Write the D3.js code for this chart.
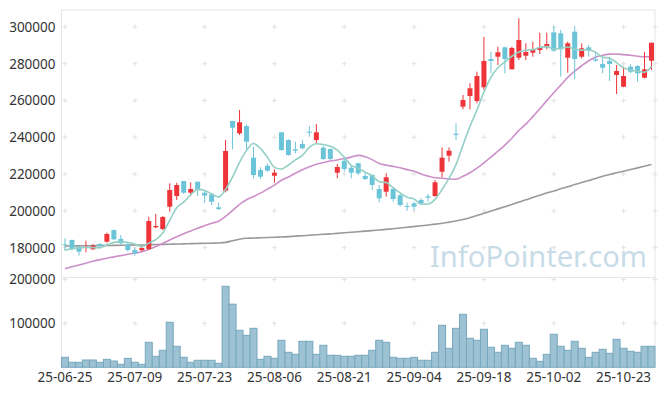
<!DOCTYPE html>
<html><head><meta charset="utf-8">
<script src="https://cdn.jsdelivr.net/npm/d3@7"></script>
<style>body{margin:0;background:#fff}svg{display:block}</style>
</head><body>
<svg id="c" width="665" height="396"></svg>
<script>
const dates = ["25-06-25","25-06-26","25-06-27","25-06-30",
"25-07-01","25-07-02","25-07-03","25-07-04","25-07-07","25-07-08","25-07-09","25-07-10","25-07-11","25-07-14","25-07-15","25-07-16","25-07-17","25-07-18","25-07-21","25-07-22","25-07-23","25-07-24","25-07-25","25-07-28","25-07-29","25-07-30","25-07-31",
"25-08-01","25-08-04","25-08-05","25-08-06","25-08-07","25-08-08","25-08-11","25-08-12","25-08-13","25-08-14","25-08-18","25-08-19","25-08-20","25-08-21","25-08-22","25-08-25","25-08-26","25-08-27","25-08-28","25-08-29",
"25-09-01","25-09-02","25-09-03","25-09-04","25-09-05","25-09-08","25-09-09","25-09-10","25-09-11","25-09-12","25-09-15","25-09-16","25-09-17","25-09-18","25-09-19","25-09-22","25-09-23","25-09-24","25-09-25","25-09-26","25-09-29","25-09-30",
"25-10-01","25-10-02","25-10-10","25-10-13","25-10-14","25-10-15","25-10-16","25-10-17","25-10-20","25-10-21","25-10-22","25-10-23","25-10-24","25-10-27","25-10-28","25-10-29"];
const open = [181850,184190,180540,180000,179130,182010,183260,189600,184730,181850,178750,178590,179300,191090,190160,202280,208100,216250,209900,215870,209900,209020,201960,210980,248860,242180,246140,228920,222230,224570,219130,242720,238530,233480,236360,243040,238530,234350,233640,220760,227280,223480,225870,218970,219510,211900,210440,211900,208480,202660,204130,205920,207940,208100,221310,230000,242000,256630,262450,259730,267180,282560,283810,288920,277010,283270,284350,285980,287450,288920,297070,296530,283270,297400,283810,288920,282380,279840,281470,273880,267500,278370,278750,272400,281630];
const high = [185100,184500,181090,183800,181850,182550,188150,190000,186900,182400,180000,180540,196850,198300,197230,215000,215330,216300,215540,215900,211360,209570,204460,238530,249000,254840,247070,234890,223700,225870,222610,242800,238910,237610,238530,246140,247230,235270,234020,225490,229460,224950,226200,220440,219890,214080,220440,213150,209190,204460,205000,206850,209190,216790,234570,234570,247610,262990,269350,275660,294680,286520,289240,289240,289240,304680,291090,291960,296850,296850,300500,298400,291960,300500,291090,290170,285650,283810,283810,279300,278370,279670,279300,286520,291410];
const low = [178370,178370,175650,177500,178750,180540,182700,184200,181470,177800,175650,178040,178800,190540,189600,199570,205920,209190,208100,208100,204460,203210,200490,210100,233480,241250,233100,217720,217340,221310,215330,232720,230000,231310,233480,240330,236360,227670,227670,217720,221310,217720,219510,216790,211360,204670,207720,205000,202280,200110,200490,203210,205000,207720,218260,226740,238530,255220,255220,258480,265710,274790,279300,274790,276830,282020,282020,283810,285270,287830,286520,272940,275110,271530,282940,283810,281090,274790,270600,263540,267180,274790,270220,272070,276580];
const close = [181470,179290,177830,180400,181090,180920,187450,184570,182390,178750,176950,179840,194500,191800,196690,211360,214080,209900,211900,211360,208260,205000,201030,232560,245220,248150,237610,219510,218590,221850,220760,233100,230380,232720,234020,242500,242720,228210,228210,223860,222770,220760,220440,217340,214080,206850,218260,206470,203210,202120,202280,204130,207170,215540,228920,232720,241300,260260,266630,273310,281470,281470,286200,282560,288570,292890,286360,287990,288540,290710,287070,287830,291090,282560,288370,287450,281630,277830,279840,276050,273310,275660,274790,276960,291410];
const volume = [22700,11400,11400,16600,16600,11400,18100,14300,6800,20400,11400,6800,56800,25000,38600,102300,47700,22700,11400,15900,15900,15900,9100,184000,143500,84100,72700,88600,18100,25000,20400,61400,34100,29500,59100,59100,29500,50000,27300,27300,25000,25000,27300,27300,38600,61400,56800,22700,20400,20400,22700,15900,15900,34100,95500,43200,88600,120400,65900,61400,86400,45500,34100,50000,43200,56800,50000,20400,13600,29500,75000,47700,38600,59100,43200,22700,34100,40900,31800,63600,43200,36400,34100,47700,47700];
const ma5 = [178600,179400,179900,180100,180020,179910,181540,182890,183280,182820,182020,180500,182490,184370,187960,194840,201690,204770,208790,211720,211100,209280,207510,211640,218410,226390,232910,236610,233820,229140,223660,222760,224940,227760,230200,234540,236470,236030,235130,233100,229150,224760,223210,221030,219080,215890,215390,212600,209770,207380,206470,203640,203780,206250,211610,217700,225130,235750,245970,254840,264590,272630,277820,281000,284050,286340,287320,287670,288870,289300,288130,288430,289050,287850,287380,287460,286220,283570,283020,280560,277730,276540,275930,275350,278430];
const ma20 = [168600,169600,170600,171600,172600,173500,174300,175000,175700,176400,177100,177800,179000,180600,182300,184200,186000,187600,189100,190630,191970,193250,194410,197020,200230,203590,206100,207840,209650,211810,214000,216660,218460,220500,222370,223930,225360,226270,227090,227710,228440,229230,230200,229440,227880,225810,224850,224190,223430,222440,221520,220070,218910,218050,217790,217300,217230,218830,220760,223230,226160,229200,232490,235750,239470,243770,247180,251260,255520,259950,264190,268380,272570,275920,278900,281630,283650,284530,285190,285320,284920,284630,284060,283780,283920];
const ma120 = [180900,180950,181000,181050,181100,181150,181200,181250,181300,181350,181450,181500,181600,181700,181800,181900,182000,182100,182200,182300,182400,182450,182550,182900,183800,184600,185100,185250,185400,185550,185700,185800,186000,186300,186500,186800,187000,187300,187500,187800,188100,188400,188700,189000,189300,189600,189950,190300,190700,191100,191500,191900,192350,192800,193300,193900,194500,195300,196300,197500,198700,199900,201100,202300,203500,204800,206000,207300,208500,209700,210800,212000,213100,214300,215400,216500,217600,218800,219800,220700,221600,222500,223400,224300,225200];
const priceTicks = [180000,200000,220000,240000,260000,280000,300000];
const volumeTicks = [100000,200000];
const dateTicks = ["25-06-25","25-07-09","25-07-23","25-08-06","25-08-21","25-09-04","25-09-18","25-10-02","25-10-23"];

const svg = d3.select("#c");
const L = 61.5, R = 655, T = 10, PB = 277.5, VB = 367.3;
const FONT = "'Noto Sans', 'Liberation Sans', sans-serif";

const x = d3.scaleBand().domain(dates).range([L, R]).padding(0);
const cx = d => x(d) + x.bandwidth() / 2;
const y = d3.scaleLinear().domain([163800, 309200]).range([PB, T]);
const yv = d3.scaleLinear().domain([0, 204100]).range([VB, PB]);

// watermark
svg.append("text").attr("x", 647).attr("y", 267).attr("text-anchor", "end")
  .attr("font-family", FONT).attr("font-size", 29).attr("fill", "#c8dce7")
  .attr("textLength", 217).attr("lengthAdjust", "spacingAndGlyphs")
  .text("InfoPointer.com");

// grid crosses
const gx = dateTicks.map(cx).concat([R]);
const gy = priceTicks.map(y).concat(volumeTicks.map(yv));
const cross = svg.append("g").attr("stroke", "#e2e2e2").attr("stroke-width", 1);
gx.forEach(px => gy.forEach(py => {
  cross.append("line").attr("x1", px - 2.5).attr("x2", px + 2.5).attr("y1", py).attr("y2", py);
  cross.append("line").attr("x1", px).attr("x2", px).attr("y1", py - 2.5).attr("y2", py + 2.5);
}));

// frame
const frame = svg.append("g").attr("stroke", "#e6e6e6").attr("fill", "none");
frame.append("line").attr("x1", L).attr("x2", R).attr("y1", T).attr("y2", T);
frame.append("line").attr("x1", L).attr("x2", L).attr("y1", T).attr("y2", VB);
frame.append("line").attr("x1", R).attr("x2", R).attr("y1", T).attr("y2", VB);
frame.append("line").attr("x1", L).attr("x2", R).attr("y1", PB).attr("y2", PB);

// volume bars
svg.append("g").selectAll("rect").data(dates).join("rect")
  .attr("x", d => x(d)).attr("width", x.bandwidth())
  .attr("y", (d, i) => yv(volume[i])).attr("height", (d, i) => VB - yv(volume[i]))
  .attr("fill", "#9cc2d3").attr("stroke", "#77a8be").attr("stroke-width", 1);

// MA lines
const line = arr => d3.line().x((d, i) => cx(dates[i])).y(d => y(d)).curve(d3.curveMonotoneX)(arr);
svg.append("path").attr("d", line(ma120)).attr("fill", "none").attr("stroke", "#999").attr("stroke-width", 1.6);
svg.append("path").attr("d", line(ma20)).attr("fill", "none").attr("stroke", "#cc8fc9").attr("stroke-width", 1.6);

// candles
const up = "#ee3439", down = "#6cc4d9";
const cg = svg.append("g").selectAll("g").data(dates).join("g");
cg.append("line").attr("x1", d => cx(d)).attr("x2", d => cx(d))
  .attr("y1", (d, i) => y(high[i])).attr("y2", (d, i) => y(low[i]))
  .attr("stroke", (d, i) => close[i] >= open[i] ? up : down).attr("stroke-width", 1);
cg.append("rect").attr("x", d => cx(d) - 2.5).attr("width", 5)
  .attr("y", (d, i) => y(Math.max(open[i], close[i])))
  .attr("height", (d, i) => Math.max(1, Math.abs(y(open[i]) - y(close[i]))))
  .attr("fill", (d, i) => close[i] >= open[i] ? up : down);

svg.append("path").attr("d", line(ma5)).attr("fill", "none").attr("stroke", "#93d0c5").attr("stroke-width", 1.6);

// axes
const ya = svg.append("g").attr("transform", `translate(${L},0)`)
  .call(d3.axisLeft(y).tickValues(priceTicks).tickSize(0).tickPadding(6).tickFormat(d3.format("d")));
const yva = svg.append("g").attr("transform", `translate(${L},0)`)
  .call(d3.axisLeft(yv).tickValues(volumeTicks).tickSize(0).tickPadding(6).tickFormat(d3.format("d")));
const xa = svg.append("g").attr("transform", `translate(0,${VB})`)
  .call(d3.axisBottom(x).tickValues(dateTicks).tickSize(0).tickPadding(5));
[ya, yva, xa].forEach(a => {
  a.select(".domain").remove();
  a.selectAll("text").attr("font-family", FONT).attr("font-size", 13.5).attr("fill", "#333");
});
</script>
</body></html>
